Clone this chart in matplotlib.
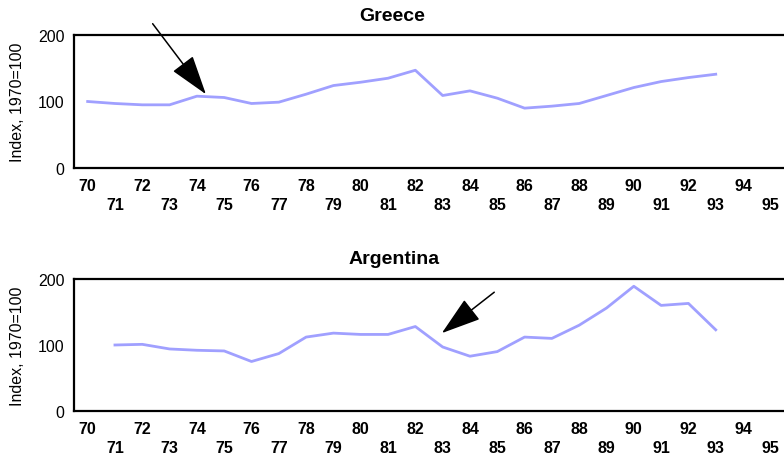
import numpy as np
import matplotlib.pyplot as plt

plt.rcParams['font.family'] = ['Liberation Sans', 'DejaVu Sans']

# years on the category axis
years = list(range(70, 96))
year_labels = [str(y) for y in years]

# Greece, 1970..1993
greece_years = list(range(70, 94))
greece = [100, 97, 95, 95, 108, 106, 97, 99, 111, 124, 129, 135, 147, 109,
          116, 105, 90, 93, 97, 109, 121, 130, 136, 141]

# Argentina, 1971..1993
argentina_years = list(range(71, 94))
argentina = [100, 101, 94, 92, 91, 75, 87, 112, 118, 116, 116, 128, 97,
             83, 90, 112, 110, 130, 156, 189, 160, 163, 123]

line_color = '#a0a0ff'

fig = plt.figure(figsize=(7.84, 4.64), dpi=100)
ax1 = fig.add_axes([74/784, 1-169/464, 710/784, 133/464])
ax2 = fig.add_axes([74/784, 1-412/464, 710/784, 132/464])


def style(ax):
    ax.set_xlim(-0.5, len(years) - 0.5)
    ax.set_ylim(0, 200)
    ax.set_yticks([0, 100, 200])
    ax.tick_params(axis='y', length=0, pad=7, labelsize=11.5)
    even = [i for i, y in enumerate(years) if y % 2 == 0]
    odd = [i for i, y in enumerate(years) if y % 2 == 1]
    ax.set_xticks(even)
    ax.set_xticklabels([year_labels[i] for i in even], fontweight='bold')
    ax.set_xticks(odd, minor=True)
    ax.set_xticklabels([year_labels[i] for i in odd], minor=True, fontweight='bold')
    ax.tick_params(axis='x', which='major', length=0, pad=7, labelsize=11.5)
    ax.tick_params(axis='x', which='minor', length=0, pad=21, labelsize=11.5)
    ax.spines['right'].set_visible(False)
    for s in ['left', 'top', 'bottom']:
        ax.spines[s].set_linewidth(1.6)
    ax.set_ylabel('Index, 1970=100', fontsize=11.5, labelpad=9)


style(ax1)
style(ax2)

ax1.plot([years.index(y) for y in greece_years], greece, color=line_color, lw=2)
ax2.plot([years.index(y) for y in argentina_years], argentina, color=line_color, lw=2)

fig.text(0.5, 1-21/464, 'Greece', ha='center', va='baseline', fontsize=14, fontweight='bold')
fig.text(0.503, 1-264/464, 'Argentina', ha='center', va='baseline', fontsize=14, fontweight='bold')

arrow = dict(arrowstyle='-|>,head_length=1.25,head_width=0.4', mutation_scale=20,
             color='black', lw=1.1, shrinkA=0, shrinkB=0)
ax1.annotate('', xy=(4.33, 111), xytext=(2.38, 217), arrowprops=arrow,
             annotation_clip=False)
ax2.annotate('', xy=(12.97, 118), xytext=(14.89, 180), arrowprops=arrow,
             annotation_clip=False)

fig.savefig('out.png', dpi=100)
